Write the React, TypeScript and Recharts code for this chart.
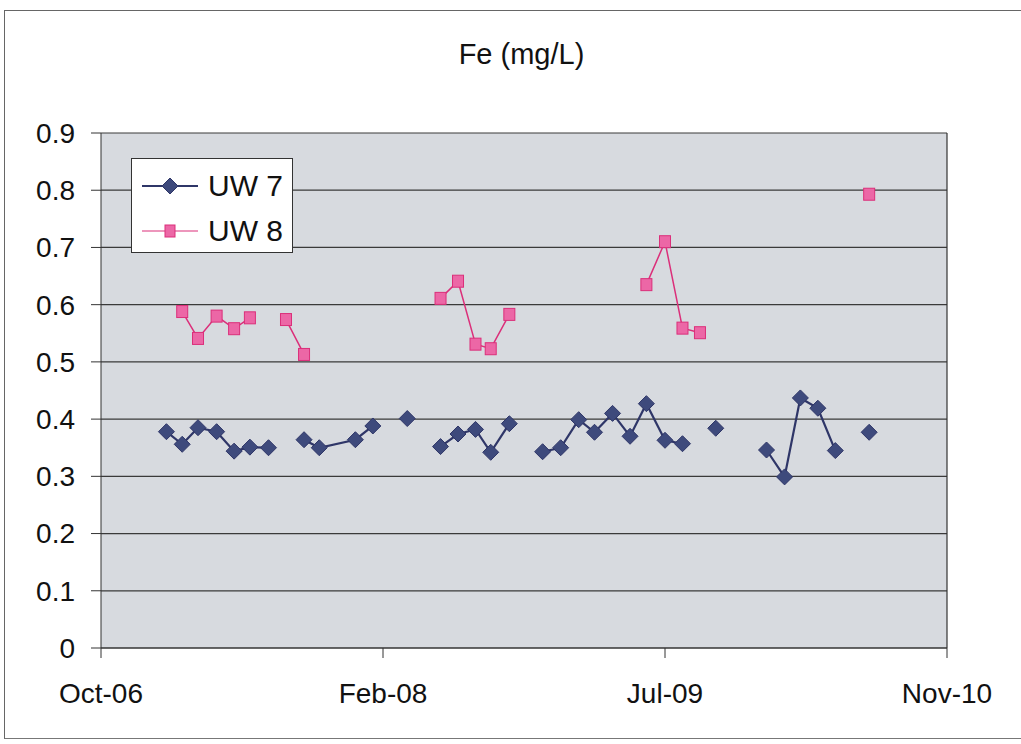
import { LineChart, Line, XAxis, YAxis, CartesianGrid, Legend, ReferenceLine } from "recharts";

// sample dates (null rows break the lines like blank cells in the sheet)
const dates = [
  "2007-02-03", "2007-03-03", "2007-03-31", "2007-05-03", "2007-06-03", "2007-07-01", "2007-08-03",
  "2007-09-03", "2007-10-05", "2007-11-01", "2008-01-04", "2008-02-04", "2008-03-05", "2008-04-05",
  "2008-05-05", "2008-06-03", "2008-07-04", "2008-08-04", "2008-08-31", "2008-10-03", "2008-11-02",
  "2008-12-01", "2009-01-02", "2009-02-03", "2009-03-03", "2009-04-04", "2009-05-05", "2009-06-03",
  "2009-07-06", "2009-08-06", "2009-09-06", "2009-10-04", "2009-11-20", "2010-01-02", "2010-02-03",
  "2010-03-03", "2010-04-03", "2010-05-04", "2010-06-03", "2010-07-03",
];

const uw7 = [
  0.378, 0.356, 0.385, 0.378, 0.344, 0.351, 0.35,
  null, 0.364, 0.35, 0.364, 0.388, null, 0.401,
  null, 0.352, 0.374, 0.382, 0.342, 0.392, null,
  0.343, 0.35, 0.399, 0.377, 0.41, 0.37, 0.427,
  0.363, 0.357, null, 0.384, null, 0.346, 0.299,
  0.437, 0.419, 0.345, null, 0.377,
];

const uw8 = [
  null, 0.588, 0.541, 0.58, 0.558, 0.577, null,
  0.574, 0.513, null, null, null, null, null,
  null, 0.611, 0.641, 0.531, 0.523, 0.583, null,
  null, null, null, null, null, null, 0.635,
  0.71, 0.559, 0.551, null, null, null, null,
  null, null, null, null, 0.793,
];

const xTicks = [39000, 39500, 40000, 40500];
const yTicks = [0, 0.1, 0.2, 0.3, 0.4, 0.5, 0.6, 0.7, 0.8, 0.9];
const months = ["Jan", "Feb", "Mar", "Apr", "May", "Jun", "Jul", "Aug", "Sep", "Oct", "Nov", "Dec"];

// excel style day serial
const toSerial = (iso: string) => {
  const [y, m, d] = iso.split("-").map(Number);
  return Date.UTC(y, m - 1, d) / 86400000 + 25569;
};
const fmtDate = (s: number) => {
  const dt = new Date((s - 25569) * 86400000);
  return `${months[dt.getUTCMonth()]}-${String(dt.getUTCFullYear() % 100).padStart(2, "0")}`;
};

const data = dates.map((d, i) => ({ t: toSerial(d), uw7: uw7[i], uw8: uw8[i] }));

const FONT = "'Liberation Sans', Arial, sans-serif";
const BLUE = "#2f3668";
const BLUE_FILL = "#3e4a7c";
const PINK = "#db2f7a";
const PINK_FILL = "#ec67a6";

const DiamondDot = (props: any) => {
  const { cx, cy, index, value } = props;
  if (cx == null || cy == null || value == null) return <g key={`d${index}`} />;
  return (
    <path
      key={`d${index}`}
      d={`M${cx},${cy - 8}L${cx + 8},${cy}L${cx},${cy + 8}L${cx - 8},${cy}Z`}
      fill={BLUE_FILL}
      stroke={BLUE}
      strokeWidth={1}
    />
  );
};

const SquareDot = (props: any) => {
  const { cx, cy, index, value } = props;
  if (cx == null || cy == null || value == null) return <g key={`s${index}`} />;
  return <rect key={`s${index}`} x={cx - 5.5} y={cy - 6} width={11} height={12} fill={PINK_FILL} stroke={PINK} strokeWidth={1} />;
};

const LegendBox = () => (
  <div
    style={{
      width: 162,
      height: 95,
      background: "#fff",
      border: "1.5px solid #333",
      fontFamily: FONT,
      fontSize: 30,
      color: "#111",
      boxSizing: "border-box",
    }}
  >
    {[
      { name: "UW 7", color: BLUE, mark: "d" },
      { name: "UW 8", color: PINK, mark: "s" },
    ].map((it, i) => (
      <div key={it.name} style={{ display: "flex", alignItems: "center", height: 45, marginTop: i === 0 ? 4 : 0 }}>
        <svg width={66} height={20} style={{ marginLeft: 8 }}>
          <line x1={2} y1={10} x2={58} y2={10} stroke={it.color} strokeWidth={it.mark === "d" ? 2 : 1.2} />
          {it.mark === "d" ? (
            <path d="M30,2L38,10L30,18L22,10Z" fill={BLUE_FILL} stroke={BLUE} />
          ) : (
            <rect x={25} y={4} width={10} height={12} fill={PINK_FILL} stroke={PINK} />
          )}
        </svg>
        <span style={{ marginLeft: 2 }}>{it.name}</span>
      </div>
    ))}
  </div>
);

export default function App() {
  return (
    <div style={{ position: "absolute", left: 0, top: 0, width: 1021, height: 744, background: "#fff", overflow: "hidden" }}>
      <div
        style={{
          position: "absolute",
          left: 4,
          top: 10,
          width: 1030,
          height: 727,
          borderLeft: "1.5px solid #666",
          borderTop: "1.5px solid #666",
          borderBottom: "1.5px solid #777",
        }}
      />
      <div
        style={{
          position: "absolute",
          left: 0,
          width: 1021,
          top: 38,
          textAlign: "center",
          paddingLeft: 22,
          boxSizing: "border-box",
          fontFamily: FONT,
          fontSize: 29,
          color: "#111",
        }}
      >
        Fe (mg/L)
      </div>
      <LineChart width={1021} height={744} data={data} margin={{ top: 133, right: 74, bottom: 36, left: 11 }}>
        <CartesianGrid vertical={false} stroke="#3a3a3a" strokeWidth={1.2} fill="#d7dadf" horizontalValues={yTicks} />
        <XAxis
          dataKey="t"
          type="number"
          domain={[39000, 40500]}
          ticks={xTicks}
          tickFormatter={fmtDate}
          height={60}
          tickSize={10}
          tickMargin={25}
          stroke="#333"
          tick={{ fontFamily: FONT, fontSize: 28, fill: "#111" }}
          allowDataOverflow
        />
        <YAxis
          domain={[0, 0.9]}
          ticks={yTicks}
          width={90}
          tickSize={10}
          tickMargin={16}
          stroke="#333"
          tick={{ fontFamily: FONT, fontSize: 28, fill: "#111" }}
          tickFormatter={(v: number) => String(Math.round(v * 10) / 10)}
          interval={0}
        />
        <ReferenceLine x={40500} stroke="#333" strokeWidth={1.2} />
        <Legend
          layout="horizontal"
          verticalAlign="middle"
          align="center"
          content={<LegendBox />}
          wrapperStyle={{ left: 131, top: 158, width: 162, height: 95 }}
        />
        <Line
          dataKey="uw7"
          name="UW 7"
          stroke={BLUE}
          strokeWidth={2.2}
          dot={DiamondDot}
          activeDot={false}
          isAnimationActive={false}
        />
        <Line
          dataKey="uw8"
          name="UW 8"
          stroke={PINK}
          strokeWidth={1.5}
          dot={SquareDot}
          activeDot={false}
          isAnimationActive={false}
        />
      </LineChart>
    </div>
  );
}
